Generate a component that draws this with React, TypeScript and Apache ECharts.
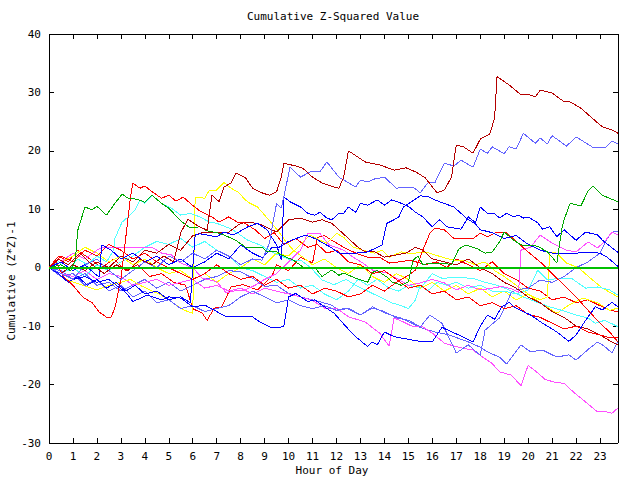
import React, { useEffect, useRef } from 'react';
import * as echarts from 'echarts';

type Pt = [number, number];

const TITLE = 'Cumulative Z-Squared Value';
const X_NAME = 'Hour of Day';
const Y_NAME = 'Cumulative (Z*Z)-1';
const X_MIN = 0;
const X_MAX = 23.75;
const Y_MIN = -30;
const Y_MAX = 40;

const darkRedTop: Pt[] = [[0,0],[0.4,1.5],[0.8,0.5],[1.3,2.5],[1.8,0.5],[2.3,-1],[2.8,0.5],[3.3,-0.5],[3.8,1.5],[4.3,0.5],[4.8,2],[5.2,1],[5.5,6],[5.8,8.3],[6.2,7.2],[6.6,6.4],[6.8,12.4],[7.1,11.3],[7.3,13.8],[7.6,14.5],[7.8,16.2],[8.2,15.4],[8.5,13.6],[8.9,12.8],[9.2,12.4],[9.5,13],[9.7,15.5],[9.8,17.9],[10.3,17.4],[10.6,17],[11,15.5],[11.4,14.5],[11.9,13.8],[12.1,13.6],[12.3,15.5],[12.5,20],[13.2,18.1],[13.8,17.6],[14.4,16.7],[14.9,17.1],[15.3,16.4],[15.7,15.4],[16.2,12.8],[16.5,13.3],[16.8,15.5],[17,21],[17.3,20.7],[17.7,19.6],[18,22],[18.4,22.9],[18.6,25.6],[18.7,32.7],[19.2,31.3],[19.7,29.6],[20,29.7],[20.3,29.2],[20.5,30.4],[21,29.9],[21.5,28.4],[21.7,28.5],[22.2,27.3],[22.7,25.5],[23.1,24.1],[23.5,23.6],[23.75,23]];

const darkRedLow: Pt[] = [[0,0],[0.5,-1],[1,0.5],[1.5,-0.5],[2,1],[2.5,0],[3,2],[3.5,1],[4,3],[4.5,2.5],[5,4],[5.5,3],[6,5.5],[6.5,6.1],[7,6.1],[7.5,6.1],[8,7.6],[8.4,7.8],[8.9,7.3],[9.5,6.1],[10,8.2],[10.5,8.5],[11,7.8],[11.4,8.2],[11.8,7.6],[12.1,6.5],[12.5,5],[12.9,3.5],[13.2,2.7],[13.6,2.7],[14,1.8],[14.5,2.2],[14.9,2.5],[15.3,3.5],[15.6,3],[16,1.5],[16.5,1],[17,0.5],[17.5,1.5],[18,0],[18.5,-1],[19,-2.5],[19.5,-3.5],[20,-5],[20.5,-6],[21,-7.5],[21.5,-8.5],[22,-10],[22.5,-10.5],[23,-11.5],[23.4,-12.5],[23.75,-13.2]];

const lightBlueTop: Pt[] = [[0,0],[0.5,-1],[1,-2],[1.5,0.5],[2,1.5],[2.5,-0.5],[3,-2],[3.5,-0.5],[4,1],[4.5,0],[5,2],[5.5,1],[6,2.5],[6.5,1.5],[7,3],[7.5,2],[8,0.5],[8.5,1.5],[8.9,1.3],[9.2,4.2],[9.35,7.8],[9.5,11],[9.7,10.2],[10.06,17.2],[10.5,15.5],[10.9,16.4],[11.3,16.4],[11.6,18.1],[12.1,15.5],[12.8,13.8],[13,15],[13.3,14.7],[13.6,15.2],[14,15.5],[14.5,13.6],[14.9,13.8],[15.2,13.8],[15.5,12.8],[15.8,14.5],[16.1,14.5],[16.5,17.9],[16.9,17.4],[17.2,18.4],[17.7,17.2],[18,20.3],[18.3,19.6],[18.5,20.7],[19,19.5],[19.2,20.7],[19.5,20.3],[19.8,23],[20.3,21.3],[20.5,22.2],[20.8,21.2],[21,22.6],[21.6,20.8],[22,22.4],[22.7,20.6],[23.2,20.5],[23.5,21.7],[23.75,21.2]];

const lightBlueDip: Pt[] = [[0,0],[0.5,-1.5],[1,-1],[1.5,-3],[2,-2],[2.5,-4],[3,-3],[3.5,-5],[4,-4],[4.5,-6],[5,-5.5],[5.5,-7],[6,-6.5],[6.5,-7.5],[7,-7],[7.5,-6.5],[8,-5],[8.5,-4],[9,-5],[9.5,-6],[10,-5.5],[10.5,-6.5],[11,-7],[11.5,-6.5],[12,-7.3],[12.4,-6.9],[13,-8.1],[13.5,-6.9],[14,-7.5],[14.5,-8.6],[15,-9],[15.5,-10.1],[15.9,-8.1],[16.4,-9.5],[16.7,-12],[17,-14.6],[17.5,-13.2],[18,-15],[18.2,-10.7],[18.8,-8.6],[19.1,-6.1],[19.3,-4.2],[19.5,-3.8],[20,-3.5],[20.5,-2.1],[21,-2.5],[21.5,-1.5],[22,0],[22.5,1],[23,2.5],[23.3,5],[23.5,6.1],[23.75,6.2]];

const lightBlueLow: Pt[] = [[0,0],[0.5,-0.5],[1,-2],[1.5,-1],[2,-3],[2.5,-2.5],[3,-4],[3.5,-3],[4,-2],[4.5,-3.5],[5,-2.5],[5.5,-4],[6,-3],[6.5,-2],[7,-1.5],[7.5,-0.5],[8,-0.7],[8.5,-1.8],[9,-3.2],[9.5,-3],[10,-4.4],[10.5,-5],[11.1,-5.6],[11.8,-6.4],[12.1,-7.3],[12.5,-6.9],[13,-8.1],[13.5,-6.7],[14,-7.7],[14.5,-8.4],[14.7,-8.6],[15.4,-10.1],[16.1,-11],[16.7,-11.5],[17.5,-12.7],[18,-13.6],[18.3,-14.4],[18.8,-15.3],[19.1,-16.5],[19.7,-13.2],[20.1,-14.4],[20.6,-14.1],[21.2,-15.3],[21.7,-14.9],[22,-15.8],[22.5,-14],[22.9,-12.7],[23.2,-13.5],[23.5,-14.6],[23.75,-12.5]];

const greenWalk: Pt[] = [[0,0],[0.5,0.5],[0.9,-0.5],[1.1,1.3],[1.2,6.4],[1.5,10.4],[1.8,9.9],[2,10.5],[2.4,9],[2.75,11],[3.05,12.6],[3.3,11.9],[3.7,11.7],[4,11.2],[4.3,12.4],[4.7,11],[5,10.2],[5.5,8],[5.9,6.8],[6.3,7],[6.6,6.3],[7,6],[7.3,5.6],[7.8,4.7],[8.2,3.5],[8.9,3.5],[9.1,2.7],[9.5,2.7],[9.9,1.8],[10.2,1.3],[10.6,0.1],[11.1,0],[11.4,-1.5],[11.8,-0.4],[12.1,-1.3],[12.3,-0.9],[12.8,-1.8],[13.3,-2.5],[13.5,-0.8],[13.7,-0.5],[14.1,-1.6],[14.3,-2.4],[14.7,-3],[15,-2.4],[15.2,1.3],[15.4,2],[15.6,0.5],[15.9,0.8],[16.5,0.8],[16.8,0.5],[17.1,3.2],[17.4,3.9],[17.9,3.2],[18.2,2.5],[18.5,2.7],[18.8,4.4],[19,6.1],[19.4,4.7],[19.7,3.9],[20.4,3.7],[20.8,2.7],[21,1.8],[21.2,0.8],[21.4,6.5],[21.5,8.2],[21.75,11],[22.2,10.6],[22.5,13.1],[22.7,14],[23.1,12.4],[23.5,11.7],[23.75,11.3]];

const blueHigh: Pt[] = [[0,0],[0.4,-1],[0.8,-2.5],[1.2,-1.5],[1.6,-3],[2,-2],[2.4,-3.5],[2.8,-2.5],[3.2,-4],[3.6,-3],[4,-4.5],[4.5,-4],[5,-5.5],[5.5,-5],[5.9,-6],[6.0,0],[6.1,5.6],[6.3,5.8],[7,5.3],[7.3,6.1],[7.7,5.6],[8.3,7],[8.7,7.6],[9.1,6.5],[9.5,3.9],[9.7,1.3],[9.8,12.1],[10.1,11.2],[10.5,10.4],[10.8,9.3],[11.1,9],[11.3,9.5],[11.6,8.5],[11.8,8.2],[12.1,9.3],[12.3,9.3],[12.5,10.4],[12.8,9.5],[13,11],[13.3,10.7],[13.7,11.6],[14,10.7],[14.3,11.6],[14.6,11.2],[15,10.5],[15.3,9.5],[15.6,8.7],[16,7],[16.3,8.2],[16.6,7],[16.9,6.8],[17.2,6.6],[17.5,8.7],[17.8,7.7],[18,10.4],[18.3,9.3],[18.6,9.3],[18.8,8.5],[19.1,9.3],[19.4,8.7],[19.6,9],[19.8,8.5],[20,8.7],[20.4,7.7],[20.6,6.6],[20.9,7],[21.2,5.3],[21.5,6.5],[22,4.7],[22.4,6.1],[22.9,5.6],[23.1,4.7],[23.75,2.6]];

const blueLow: Pt[] = [[0,0],[0.5,-1],[1,-2],[1.5,-1.5],[2,-2.5],[2.5,-2],[2.9,-3.3],[3.2,-4.2],[3.5,-5.8],[4.1,-4.7],[4.7,-5.5],[5,-5],[5.5,-5.2],[6,-6.7],[6.5,-6.4],[7,-7.5],[7.4,-8.4],[8,-8.4],[8.5,-8.4],[8.8,-9.3],[9.3,-10.3],[9.8,-10.1],[10,-5],[10.3,-4.4],[10.8,-5.8],[11.1,-5.5],[11.5,-6.7],[11.9,-7.8],[12.4,-10.1],[12.8,-11.8],[13.3,-13.5],[13.5,-12.7],[13.7,-13.2],[14,-11],[14.4,-11.8],[14.8,-12.1],[15.2,-12.4],[15.6,-12.7],[16,-12.7],[16.4,-10.2],[17.3,-11.9],[17.7,-12.7],[18,-10],[18.3,-8.1],[18.6,-8.8],[18.9,-6.7],[19.2,-5.9],[19.4,-6.7],[20.1,-8.1],[20.6,-9.5],[21.2,-11],[21.7,-12.6],[22,-11.5],[22.4,-9],[22.8,-6.7],[23.1,-7.2],[23.5,-5.9],[23.75,-6.7]];

const blueMid: Pt[] = [[0,0],[0.5,1],[1,-0.5],[1.5,0.5],[1.9,-1],[2.1,-1.6],[2.2,3.9],[2.6,3],[3,1.5],[3.5,2.5],[4,1],[4.5,2],[5,0.5],[5.5,1.5],[6,0],[6.5,1],[7,2.5],[7.5,1.5],[8,3.9],[8.5,2.5],[8.9,1.7],[9.3,3.4],[9.6,3.5],[10,4.5],[10.7,5.6],[11.1,5],[11.8,3.4],[12.1,2.5],[12.8,2.5],[13.3,2.7],[13.9,3.9],[14.1,7.6],[14.4,8.2],[14.6,8.7],[14.8,10.4],[15.1,11.2],[15.5,12.3],[15.8,12.2],[16.1,11.6],[16.5,11],[16.9,10.4],[17.2,9.3],[17.4,8.5],[17.8,7.5],[18,6.5],[18.5,6],[19,5],[19.5,5.5],[20,4],[20.5,3],[21,2.5],[21.5,2.5],[22,2.5],[22.5,2.6],[23,2.5],[23.3,1.8],[23.75,0.2]];

const magentaJump: Pt[] = [[0,0],[0.5,1],[1,2.5],[1.5,1.5],[2,3],[2.2,3.4],[2.6,3.5],[3,3.5],[3.7,3.5],[4.3,3.5],[4.7,2.5],[5.1,2.2],[5.5,0.8],[6,0],[6.4,-1.8],[7,-2.4],[7.4,-4.3],[7.7,-4],[8.2,-3.8],[8.6,-3],[9,-2],[9.5,-1],[10,1],[10.5,3],[10.8,5.9],[11.3,5.9],[11.7,3.9],[12.3,3],[12.7,1.8],[13.1,0.8],[13.5,-0.4],[14.1,-0.9],[14.5,-1.8],[15,-3],[15.5,-2.6],[16,-2],[16.5,-2.6],[17,-3.8],[17.5,-3],[18,-3.8],[18.5,-3.5],[18.9,-3.2],[19.3,-3.6],[19.6,-4.2],[19.7,3],[20.1,3.5],[20.5,5.6],[21,4.2],[21.6,3],[22,2.7],[22.5,4.4],[22.9,3.4],[23.2,4.5],[23.5,6.1],[23.75,5.6]];

const magentaLow: Pt[] = [[0,0],[0.5,-1],[1,-1.5],[1.5,-0.5],[2,-2],[2.5,-1],[3,-1.5],[3.5,-3],[4,-2.5],[4.5,-2],[5,-3],[5.5,-2.5],[6,-2],[6.5,-3.5],[7,-3],[7.5,-4],[8,-3.5],[8.5,-4.5],[9,-3.5],[9.5,-4],[10,-4.5],[10.5,-5],[11,-5.6],[11.5,-6.9],[12,-6.9],[12.5,-8.4],[13.2,-9.3],[13.8,-11.2],[14.2,-13.4],[14.4,-8.6],[14.8,-9.3],[15.2,-10.1],[15.6,-10.1],[16,-11.2],[16.5,-12.9],[16.9,-13.4],[17.3,-13.8],[17.7,-14.1],[18.1,-15.3],[18.5,-16.4],[18.8,-17.8],[19.3,-18.4],[19.7,-20.2],[20,-16.7],[20.4,-18],[20.7,-19.1],[21.1,-19.6],[21.5,-19.8],[21.9,-21.3],[22.4,-23],[22.9,-24.7],[23.2,-24.6],[23.5,-24.9],[23.75,-24]];

const yellowJump: Pt[] = [[0,0],[0.7,-2],[1.4,-3],[2,-3.8],[2.5,-3],[3,-2.5],[3.4,-2],[3.8,-3],[4.2,-3.8],[4.6,-4.5],[5,-5.5],[5.6,-7.2],[6,-7.8],[6.1,12.1],[6.5,11.9],[6.7,13.3],[7,13.3],[7.3,14.6],[7.6,13.6],[7.9,12.9],[8.2,11.6],[8.4,11],[8.7,10.4],[9,9],[9.3,7.6],[9.6,6.1],[9.9,4.4],[10.2,3],[10.6,1.8],[11,0.5],[11.5,1.5],[12,0],[12.5,-1],[13,0.5],[13.5,-1.5],[14,-2.5],[14.5,-1],[15,-2],[15.5,-3.5],[16,-2.5],[16.5,-4],[17,-3],[17.5,-4.5],[18,-3.5],[18.5,-5],[19,-4],[19.5,-5.5],[20,-4.5],[20.5,-5.5],[20.8,-5],[20.9,2.6],[21.2,2.5],[21.6,0.8],[22.1,0],[22.6,-1.8],[23.1,-3.5],[23.75,-5]];

const yellowMid: Pt[] = [[0,0],[0.5,1],[1,2],[1.5,3.5],[2,2.5],[2.5,1],[3,2],[3.5,0.5],[4,1.5],[4.5,0],[5,-1],[5.5,-0.5],[6,-2],[6.5,-1],[7,-2.5],[7.5,-1],[8,0],[8.5,1.5],[9,0.5],[9.5,2.5],[10,2],[10.5,4],[10.9,5.6],[11.3,4.7],[11.6,4.2],[12,5.9],[12.3,5.2],[12.7,3.5],[13.1,3],[13.6,2.5],[13.9,3],[14.2,1.8],[14.7,2.7],[15.1,2.4],[15.7,2.7],[16.1,2.2],[16.5,1.7],[16.9,1.3],[17.3,1.3],[17.8,0.5],[18.2,1],[18.6,-0.5],[19,-1.5],[19.5,-3],[20,-4.5],[20.5,-6],[21.2,-7.8],[21.7,-6.4],[22.3,-5.2],[22.9,-6],[23.4,-7.3],[23.75,-6.9]];

const cyanHigh: Pt[] = [[0,0],[0.4,1],[0.8,-0.5],[1.2,1.5],[1.6,0.5],[2,2],[2.4,1],[2.7,3],[2.75,5],[3.05,7.8],[3.3,8.7],[3.6,9.9],[3.8,11.6],[4,11],[4.3,12.4],[4.7,11],[5.1,10.2],[5.5,9],[5.9,9.3],[6.3,8.7],[6.7,7.8],[7,7.6],[7.5,6.8],[7.7,6.4],[8.3,4.7],[8.8,3.9],[9.4,2.5],[10.1,1.3],[10.5,1.3],[10.9,0.1],[11.4,-2.1],[11.9,-2.9],[12.4,-2],[12.8,-3],[13.3,-4],[13.8,-5],[14.3,-6],[14.7,-6.5],[15,-7],[15.3,-5.5],[15.5,-3],[15.8,-4],[16.2,-2.5],[16.6,-3],[17,-2.5],[17.5,-3.5],[18,-3],[18.5,-4],[19,-4],[19.5,-4.5],[20,-3.8],[20.4,-0.4],[20.8,-2.1],[21.3,-1.8],[21.8,-1.8],[22.4,-3.5],[22.9,-3.3],[23.4,-3.8],[23.75,-4.7]];

const cyanLow: Pt[] = [[0,0],[0.5,-1],[1,0],[1.5,-1.5],[2,0.5],[2.5,-0.5],[3,1],[3.5,2],[4,3.5],[4.5,4.5],[5,4],[5.5,5],[6,3.5],[6.5,4.5],[7,3],[7.5,2],[8,0],[8.5,-0.5],[9,-1.5],[9.5,-2.5],[10,-2],[10.5,-3.5],[11,-3],[11.5,-4.5],[12,-5.5],[12.5,-4],[12.9,-2],[13.3,-3],[13.7,-2],[14.2,-3.5],[14.6,-4],[15,-3],[15.5,-3.5],[16,-1],[16.4,-1.8],[17,-1.7],[17.7,-1.8],[18.1,-2.4],[18.7,-3],[19.2,-3.8],[19.8,-5],[20.3,-5.8],[20.9,-6.7],[21.4,-7.3],[22,-8.1],[22.5,-8.6],[22.8,-9.5],[23.2,-9],[23.75,-10.1]];

const redEarly: Pt[] = [[0,0],[0.3,1],[0.6,-1.5],[1,-3],[1.4,-5],[1.8,-6],[2.1,-7.6],[2.45,-8.6],[2.6,-8.4],[2.75,-6.9],[3,-2],[3.2,5],[3.4,12],[3.5,14.5],[3.8,13.6],[4,14],[4.3,13],[4.7,11.9],[5,12.4],[5.3,11.4],[5.6,12.1],[5.9,11],[6.3,9.7],[6.8,8.7],[7.1,7.8],[7.5,8.7],[7.9,7.7],[8.1,7.8],[8.6,6.5],[9,5],[9.4,6],[9.8,4],[10.3,5],[10.8,3.5],[11.2,4],[11.6,2.5],[12,3],[12.5,1],[13,0.5],[13.5,-1],[14,-0.5],[14.5,-2],[15,-3.5],[15.5,-3],[16,-4.5],[16.5,-4],[17,-5.5],[17.5,-5],[18,-6.5],[18.5,-6],[19,-7],[19.5,-6.5],[20,-8],[20.5,-8.5],[21,-9.5],[21.5,-10.5],[22,-10],[22.5,-11],[23,-11.5],[23.4,-12],[23.75,-12]];

const redLate: Pt[] = [[0,0],[0.5,2],[1,1],[1.5,3],[2,2],[2.5,4],[3,3],[3.5,1.5],[4,2.5],[4.5,1],[5,0],[5.5,-1],[6,-2],[6.5,-1],[7,0.5],[7.5,-1],[8,-2],[8.5,-1.5],[9,-3],[9.5,-2],[10,-3.5],[10.5,-3],[11,-4.5],[11.5,-3.5],[12,-4],[12.5,-5],[13,-4.5],[13.5,-3],[14,-4],[14.5,-2.5],[15,-1.3],[15.3,-0.4],[15.6,3],[15.9,5.9],[16.1,6.8],[16.5,6.5],[16.9,5],[17.3,5],[17.7,5],[18,5.9],[18.3,5.3],[18.7,6.1],[19.1,6],[19.5,4.5],[20,2.7],[20.5,1],[21,-1],[21.5,-3],[22,-5],[22.5,-7.3],[23,-9.5],[23.4,-11],[23.75,-12.7]];

const redMid: Pt[] = [[0,0],[0.4,2],[0.8,1],[1.2,3],[1.7,1.5],[2.2,0],[2.7,1.5],[3.2,-0.5],[3.7,0.5],[4.2,-1.5],[4.7,-1],[5.2,-2.5],[5.7,-3],[6,-7],[6.4,-7.8],[6.6,-9],[6.9,-6.9],[7.2,-6.8],[7.6,-3.3],[8.1,-2.9],[8.7,-3.8],[9.3,-1.5],[9.5,0.5],[10,-0.5],[10.5,1.8],[11,0.8],[11.2,5.2],[11.5,5.5],[11.8,4.7],[12.3,3.5],[12.8,2.5],[13.3,1.8],[13.8,1.8],[14.2,0.8],[14.6,1],[15.1,1.3],[15.7,0.5],[16.2,1],[16.6,0],[17,1.5],[17.5,0.5],[18,-0.5],[18.5,1],[19,-1],[19.5,-2],[20,-3.5],[20.5,-4],[21,-5.5],[21.5,-5],[22,-6],[22.5,-5.5],[23,-6.5],[23.4,-7.3],[23.75,-7.5]];

const zeroLine: Pt[] = [[X_MIN, 0], [X_MAX, 0]];

const FONT = 'DejaVu Sans Mono';

export default function App() {
  const ref = useRef<HTMLDivElement>(null);
  useEffect(() => {
    if (!ref.current) return;
    const chart = echarts.init(ref.current, undefined, { renderer: 'svg' });
    const walks: { data: Pt[]; color: string; width: number }[] = [
      { data: redMid, color: '#ff0000', width: 1 },
      { data: yellowMid, color: '#ffff00', width: 1 },
      { data: cyanLow, color: '#50ffff', width: 1 },
      { data: lightBlueLow, color: '#6464ff', width: 1 },
      { data: magentaLow, color: '#ff50ff', width: 1 },
      { data: yellowJump, color: '#ffff00', width: 1 },
      { data: cyanHigh, color: '#50ffff', width: 1 },
      { data: lightBlueDip, color: '#6464ff', width: 1 },
      { data: magentaJump, color: '#ff50ff', width: 1 },
      { data: darkRedLow, color: '#b40000', width: 1 },
      { data: redLate, color: '#ff0000', width: 1 },
      { data: redEarly, color: '#ff0000', width: 1 },
      { data: blueMid, color: '#0000ff', width: 1 },
      { data: blueLow, color: '#0000ff', width: 1 },
      { data: blueHigh, color: '#0000ff', width: 1 },
      { data: greenWalk, color: '#00a800', width: 1 },
      { data: lightBlueTop, color: '#6464ff', width: 1 },
      { data: darkRedTop, color: '#b40000', width: 1 },
    ];
    const series: any[] = walks.map((w) => ({
      type: 'line',
      data: w.data,
      showSymbol: false,
      symbol: 'none',
      silent: true,
      lineStyle: { color: w.color, width: w.width },
      xAxisIndex: 0,
      yAxisIndex: 0,
    }));
    series.push({
      type: 'line',
      data: zeroLine,
      showSymbol: false,
      symbol: 'none',
      silent: true,
      z: 5,
      lineStyle: { color: '#00c000', width: 2 },
      xAxisIndex: 0,
      yAxisIndex: 0,
    });
    const axisCommon = {
      type: 'value' as const,
      axisLine: { show: true, onZero: false, lineStyle: { color: '#000', width: 1 } },
      axisTick: { show: true, inside: true, length: 5, lineStyle: { color: '#000', width: 1 } },
      splitLine: { show: false },
    };
    const label = { fontFamily: FONT, fontSize: 11, color: '#000' };
    chart.setOption({
      animation: false,
      backgroundColor: '#ffffff',
      grid: { left: 49, right: 22, top: 34, bottom: 37, containLabel: false },
      xAxis: [
        {
          ...axisCommon,
          position: 'bottom',
          min: X_MIN,
          max: X_MAX,
          interval: 1,
          axisLabel: {
            ...label,
            margin: 8,
            showMaxLabel: false,
            formatter: (v: number) => (Number.isInteger(v) ? String(v) : ''),
          },
        },
        {
          ...axisCommon,
          position: 'top',
          min: X_MIN,
          max: X_MAX,
          interval: 1,
          axisLabel: { show: false },
        },
      ],
      yAxis: [
        {
          ...axisCommon,
          position: 'left',
          min: Y_MIN,
          max: Y_MAX,
          interval: 10,
          axisLabel: { ...label, margin: 8 },
        },
        {
          ...axisCommon,
          position: 'right',
          min: Y_MIN,
          max: Y_MAX,
          interval: 10,
          axisLabel: { show: false },
        },
      ],
      graphic: [
        {
          type: 'text',
          x: 333,
          y: 16,
          style: { text: TITLE, font: `11px "${FONT}"`, fill: '#000', align: 'center', verticalAlign: 'middle' },
        },
        {
          type: 'text',
          x: 332,
          y: 470,
          style: { text: X_NAME, font: `11px "${FONT}"`, fill: '#000', align: 'center', verticalAlign: 'middle' },
        },
        {
          type: 'text',
          x: 11,
          y: 281,
          rotation: Math.PI / 2,
          style: { text: Y_NAME, font: `11px "${FONT}"`, fill: '#000', align: 'center', verticalAlign: 'middle' },
        },
      ],
      series,
    });
    return () => chart.dispose();
  }, []);
  return (
    <div style={{ position: 'fixed', left: 0, top: 0, width: 640, height: 480, background: '#fff' }}>
      <style>{'#chartbox svg path { shape-rendering: crispEdges; }'}</style>
      <div id="chartbox" ref={ref} style={{ width: 640, height: 480 }} />
    </div>
  );
}
